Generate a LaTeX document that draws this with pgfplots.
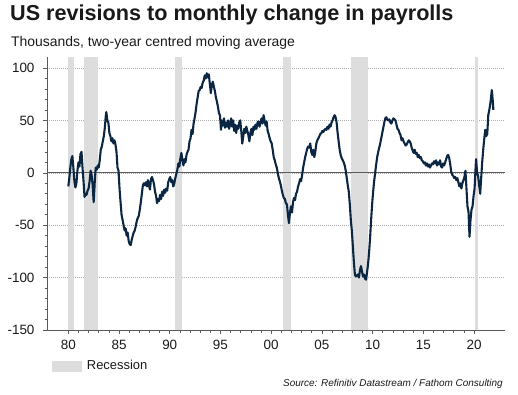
\documentclass[border=0pt]{standalone}
\usepackage{fontspec}
\setmainfont{Liberation Sans}
\usepackage{pgfplots}
\pgfplotsset{compat=1.18}
\definecolor{linecol}{RGB}{10,38,66}
\definecolor{recgrey}{RGB}{221,221,221}
\definecolor{axcol}{RGB}{90,90,90}
\definecolor{gridcol}{RGB}{175,175,175}
\definecolor{txt}{RGB}{25,25,25}
\begin{document}
\begin{tikzpicture}[x=1bp,y=1bp]
\path[use as bounding box] (0,0) rectangle (518,394);
\node[anchor=base west, inner sep=0, text=txt, font=\fontsize{21.7}{24}\selectfont\bfseries] at (10,373.6) {US revisions to monthly change in payrolls};
\node[anchor=base west, inner sep=0, text=txt, font=\fontsize{14}{16}\selectfont] at (11,347.7) {Thousands, two-year centred moving average};
\begin{axis}[
  at={(47bp,64bp)}, anchor=south west,
  scale only axis, width=458bp, height=273bp,
  xmin=1977.9, xmax=2023.05, ymin=-150, ymax=110.5,
  axis x line=bottom, axis y line=left,
  axis line style={-, axcol, line width=0.8pt},
  xtick={1980,1985,...,2020},
  xticklabels={80,85,90,95,00,05,10,15,20},
  minor x tick num=4,
  ytick={-150,-100,...,100},
  minor y tick num=4,
  tick align=outside,
  major tick length=4bp, minor tick length=2.5bp,
  tick style={axcol, line width=0.6pt},
  ymajorgrids, grid style={gridcol, dash pattern=on 1pt off 1pt, line width=0.6pt},
  /pgf/number format/assume math mode=true,
  ticklabel style={font=\fontsize{13.5}{15}\selectfont, text=txt},
  yticklabel style={xshift=-5bp},
  xticklabel style={yshift=-3bp},
  clip=false,
]
\addplot[fill=recgrey, draw=none] coordinates {(1980.0,-150) (1980.0,110.5) (1980.6,110.5) (1980.6,-150)} -- cycle;
\addplot[fill=recgrey, draw=none] coordinates {(1981.5,-150) (1981.5,110.5) (1982.95,110.5) (1982.95,-150)} -- cycle;
\addplot[fill=recgrey, draw=none] coordinates {(1990.5,-150) (1990.5,110.5) (1991.25,110.5) (1991.25,-150)} -- cycle;
\addplot[fill=recgrey, draw=none] coordinates {(2001.2,-150) (2001.2,110.5) (2001.95,110.5) (2001.95,-150)} -- cycle;
\addplot[fill=recgrey, draw=none] coordinates {(2007.9,-150) (2007.9,110.5) (2009.5,110.5) (2009.5,-150)} -- cycle;
\addplot[fill=recgrey, draw=none] coordinates {(2020.05,-150) (2020.05,110.5) (2020.35,110.5) (2020.35,-150)} -- cycle;
\addplot[axcol, line width=0.8pt] coordinates {(1977.9,0) (2023.05,0)};
\addplot[linecol, line width=2.1pt, line join=round] table {
1980.00 -13
1980.10 -5
1980.20 5
1980.30 13
1980.40 16
1980.50 5
1980.60 -8
1980.70 -14
1980.80 -10
1980.90 2
1981.00 10
1981.10 6
1981.20 18
1981.30 20
1981.40 5
1981.50 -8
1981.60 -23
1981.70 -20
1981.80 -21
1981.90 -17
1982.00 -15
1982.10 -8
1982.20 2
1982.30 -2
1982.40 -12
1982.50 -28
1982.60 -10
1982.70 5
1982.80 3
1982.90 7
1983.00 5
1983.10 12
1983.20 22
1983.30 25
1983.40 30
1983.50 35
1983.60 43
1983.70 55
1983.75 58
1983.85 50
1983.95 48
1984.05 38
1984.15 35
1984.25 30
1984.35 33
1984.45 28
1984.55 31
1984.65 27
1984.75 20
1984.85 5
1984.95 2
1985.05 -15
1985.15 -28
1985.25 -40
1985.35 -45
1985.45 -50
1985.55 -55
1985.65 -53
1985.75 -60
1985.85 -57
1985.95 -65
1986.05 -68
1986.15 -69
1986.25 -64
1986.35 -60
1986.45 -57
1986.55 -55
1986.65 -51
1986.75 -46
1986.85 -43
1986.95 -41
1987.05 -35
1987.15 -28
1987.25 -20
1987.35 -12
1987.45 -10
1987.55 -12
1987.65 -9
1987.75 -13
1987.85 -7
1987.95 -12
1988.05 -16
1988.15 -6
1988.25 -4
1988.35 -7
1988.45 -11
1988.55 -18
1988.65 -22
1988.75 -29
1988.85 -25
1988.95 -27
1989.05 -21
1989.15 -25
1989.25 -18
1989.35 -22
1989.45 -16
1989.55 -19
1989.65 -15
1989.75 -17
1989.85 -9
1989.95 -6
1990.05 -4
1990.15 -9
1990.25 -7
1990.35 -13
1990.45 -10
1990.55 -5
1990.65 -1
1990.75 3
1990.85 9
1990.95 6
1991.05 14
1991.15 19
1991.25 12
1991.35 7
1991.45 13
1991.55 10
1991.65 17
1991.75 20
1991.85 22
1991.95 30
1992.05 33
1992.15 41
1992.25 37
1992.35 47
1992.45 52
1992.55 58
1992.65 66
1992.75 72
1992.85 78
1992.95 79
1993.05 82
1993.15 81
1993.25 86
1993.35 88
1993.45 93
1993.55 90
1993.65 95
1993.75 91
1993.85 94
1993.95 85
1994.05 76
1994.15 84
1994.25 87
1994.35 82
1994.45 78
1994.55 72
1994.65 68
1994.75 63
1994.85 57
1994.95 55
1995.05 41
1995.15 50
1995.25 45
1995.35 52
1995.45 43
1995.55 48
1995.65 44
1995.75 50
1995.85 42
1995.95 46
1996.05 52
1996.15 44
1996.25 50
1996.35 40
1996.45 46
1996.55 38
1996.65 45
1996.75 42
1996.85 48
1996.95 50
1997.05 40
1997.15 28
1997.25 35
1997.35 42
1997.45 38
1997.55 44
1997.65 40
1997.75 36
1997.85 30
1997.95 38
1998.05 42
1998.15 36
1998.25 44
1998.35 41
1998.45 46
1998.55 42
1998.65 48
1998.75 49
1998.85 44
1998.95 48
1999.05 52
1999.15 47
1999.25 55
1999.35 50
1999.45 45
1999.55 49
1999.65 40
1999.75 37
1999.85 33
1999.95 30
2000.05 28
2000.15 22
2000.25 15
2000.35 12
2000.45 8
2000.55 5
2000.65 0
2000.75 -5
2000.85 -8
2000.95 -12
2001.05 -17
2001.15 -21
2001.25 -24
2001.35 -25
2001.45 -29
2001.55 -30
2001.65 -40
2001.75 -48
2001.85 -38
2001.95 -32
2002.05 -38
2002.15 -28
2002.25 -24
2002.35 -26
2002.45 -20
2002.55 -18
2002.65 -13
2002.75 -10
2002.85 -6
2002.95 -8
2003.05 -2
2003.15 5
2003.25 10
2003.35 15
2003.45 19
2003.55 23
2003.65 25
2003.75 24
2003.85 28
2003.95 20
2004.05 17
2004.15 22
2004.25 15
2004.35 20
2004.45 28
2004.55 31
2004.65 33
2004.75 35
2004.85 37
2004.95 38
2005.05 40
2005.15 39
2005.25 41
2005.35 42
2005.45 41
2005.55 44
2005.65 42
2005.75 46
2005.85 44
2005.95 48
2006.05 50
2006.15 53
2006.25 55
2006.35 53
2006.45 48
2006.55 38
2006.65 30
2006.75 22
2006.85 17
2006.95 14
2007.05 12
2007.15 10
2007.25 7
2007.35 2
2007.45 -5
2007.55 -12
2007.65 -18
2007.75 -30
2007.85 -45
2007.95 -55
2008.05 -70
2008.15 -85
2008.25 -97
2008.35 -99
2008.45 -98
2008.55 -97
2008.65 -100
2008.75 -93
2008.85 -89
2008.95 -94
2009.05 -99
2009.15 -97
2009.25 -101
2009.35 -102
2009.45 -95
2009.55 -87
2009.65 -76
2009.75 -62
2009.85 -45
2009.95 -30
2010.05 -18
2010.15 -8
2010.25 0
2010.35 8
2010.45 15
2010.55 20
2010.65 24
2010.75 28
2010.85 33
2010.95 38
2011.05 43
2011.15 48
2011.25 52
2011.35 53
2011.45 51
2011.55 50
2011.65 51
2011.75 48
2011.85 47
2011.95 50
2012.05 52
2012.15 51
2012.25 50
2012.35 46
2012.45 42
2012.55 41
2012.65 38
2012.75 36
2012.85 31
2012.95 33
2013.05 30
2013.15 28
2013.25 26
2013.35 27
2013.45 29
2013.55 31
2013.65 30
2013.75 28
2013.85 24
2013.95 21
2014.05 19
2014.15 22
2014.25 18
2014.35 19
2014.45 15
2014.55 17
2014.65 14
2014.75 15
2014.85 12
2014.95 11
2015.05 9
2015.15 10
2015.25 7
2015.35 9
2015.45 6
2015.55 8
2015.65 5
2015.75 7
2015.85 9
2015.95 8
2016.05 11
2016.15 9
2016.25 12
2016.35 7
2016.45 10
2016.55 8
2016.65 12
2016.75 6
2016.85 5
2016.95 9
2017.05 7
2017.15 10
2017.25 13
2017.35 16
2017.45 17
2017.55 14
2017.65 8
2017.75 1
2017.85 -2
2017.95 -3
2018.05 -5
2018.15 -4
2018.25 -7
2018.35 -5
2018.45 -9
2018.55 -13
2018.65 -10
2018.75 -15
2018.85 -10
2018.95 -7
2019.05 -4
2019.15 2
2019.25 -15
2019.35 -32
2019.45 -37
2019.55 -61
2019.65 -45
2019.75 -35
2019.85 -32
2019.95 -22
2020.05 -15
2020.15 5
2020.20 13
2020.30 0
2020.40 -3
2020.50 -12
2020.60 -20
2020.70 -5
2020.80 10
2020.90 22
2021.00 32
2021.10 41
2021.20 35
2021.30 37
2021.40 55
2021.50 60
2021.60 66
2021.65 70
2021.75 79
2021.85 68
2021.90 60
};
\end{axis}
\fill[recgrey] (51.7,22.3) rectangle (81.7,33.3);
\node[anchor=base west, inner sep=0, text=txt, font=\fontsize{13}{15}\selectfont] at (86.7,24.7) {Recession};
\node[anchor=base east, inner sep=0, text=txt, font=\fontsize{10}{12}\selectfont\itshape] at (503,8) {Source: Refinitiv Datastream / Fathom Consulting};
\end{tikzpicture}
\end{document}
